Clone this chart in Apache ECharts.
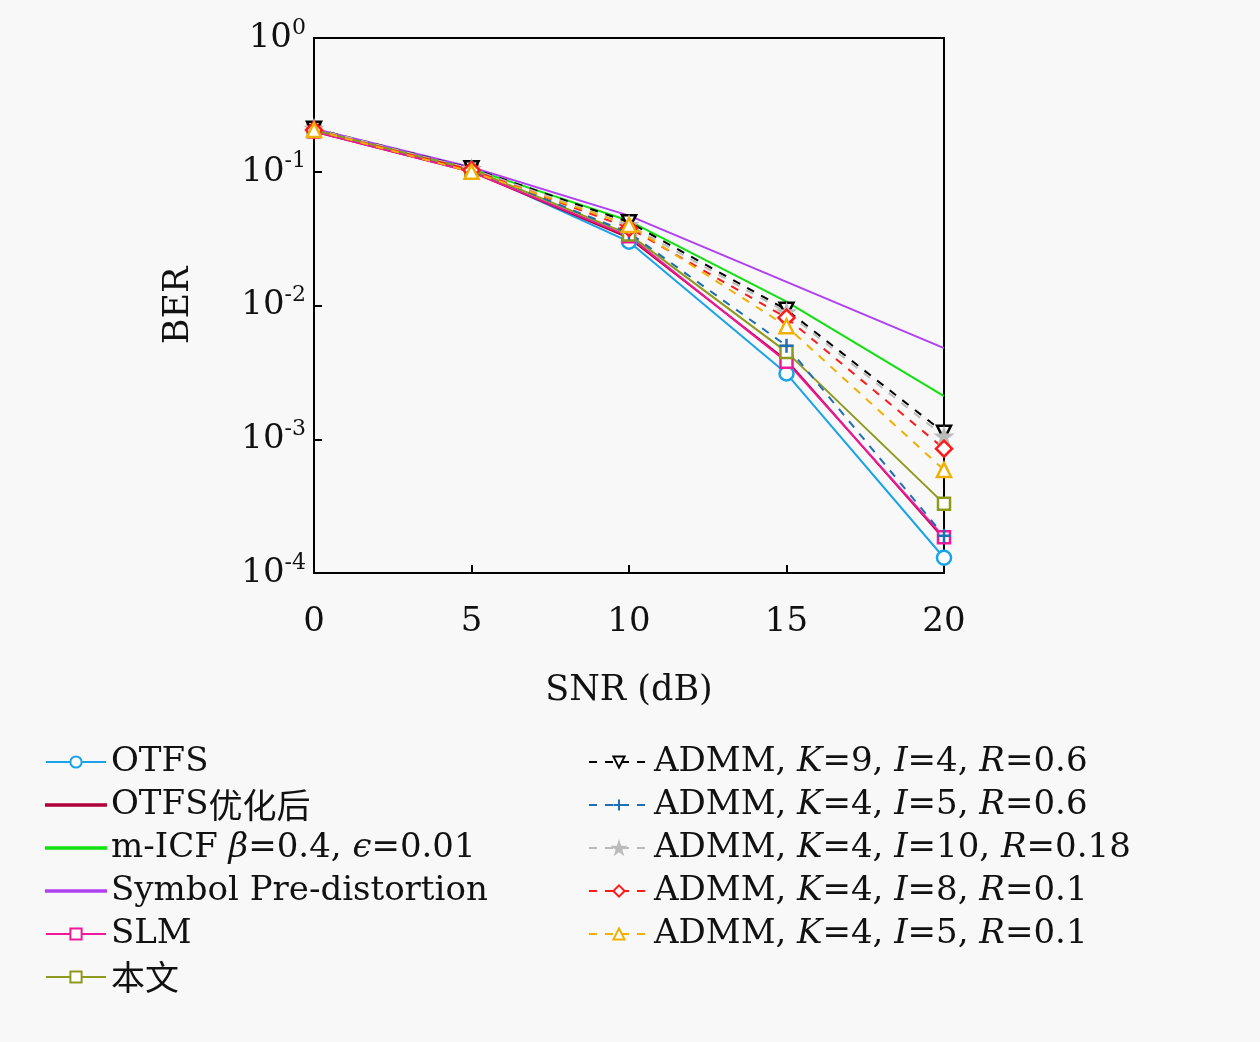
<!DOCTYPE html>
<html>
<head>
<meta charset="utf-8">
<script src="https://cdn.jsdelivr.net/npm/echarts@6/dist/echarts.min.js"></script>
<style>html,body{margin:0;padding:0;background:#f8f8f8;}#chart{width:1260px;height:1042px;}</style>
</head>
<body>
<div id="chart"></div>
<script>
// SNR points and BER curves
const snr = [0, 5, 10, 15, 20];
const berOTFS    = [0.205, 0.103, 0.030, 0.0031, 0.00013];
const berOTFSopt = [0.200, 0.100, 0.032, 0.0039, 0.00018];
const berMICF    = [0.205, 0.105, 0.043, 0.0107, 0.0021];
const berSymbol  = [0.210, 0.108, 0.047, 0.015, 0.0048];
const berSLM     = [0.200, 0.100, 0.033, 0.0038, 0.000185];
const berOurs    = [0.205, 0.104, 0.034, 0.0045, 0.00033];
const berK9      = [0.210, 0.106, 0.042, 0.0093, 0.00112];
const berK4I5    = [0.205, 0.104, 0.035, 0.0050, 0.00019];
const berK4I10   = [0.210, 0.105, 0.040, 0.0089, 0.00105];
const berK4I8    = [0.205, 0.103, 0.038, 0.0081, 0.00085];
const berK4I5b   = [0.205, 0.100, 0.040, 0.0070, 0.00059];

const serif = 'DejaVu Serif';
const triDown = 'path://M0,0L10,0L5,9Z';
const plus = 'path://M5,0L5,10M0,5L10,5';
const star = 'path://M5,0L6.2,3.6L10,3.6L6.9,5.9L8.1,9.5L5,7.3L1.9,9.5L3.1,5.9L0,3.6L3.8,3.6Z';
// plain line icon for series drawn without markers
const lineIcon = 'path://M0,0L0,0M0,6.2L60,6.2L60,7.8L0,7.8ZM60,14L60,14';

function mk(name, data, color, symbol, dashed, opt) {
  opt = opt || {};
  return {
    name: name, type: 'line', data: data.map((v, i) => [snr[i], v]),
    symbol: symbol, symbolSize: opt.size || 14,
    lineStyle: { color: color, width: 2, type: dashed ? [8, 8] : 'solid' },
    itemStyle: { color: opt.fill || '#fff', borderColor: color, borderWidth: 2.5 },
    showSymbol: symbol !== 'none', z: opt.z || 2
  };
}

const series = [
  mk('OTFS', berOTFS, '#1aa3e8', 'circle'),
  mk('OTFS优化后', berOTFSopt, '#b0003a', 'none'),
  mk('m-ICF', berMICF, '#10e010', 'none'),
  mk('Symbol Pre-distortion', berSymbol, '#b040f0', 'none'),
  mk('SLM', berSLM, '#f0189a', 'rect', false, { size: 12 }),
  mk('本文', berOurs, '#8e9a1c', 'rect', false, { size: 12 }),
  mk('K9', berK9, '#000000', triDown, true),
  mk('K4I5', berK4I5, '#1f6fb4', plus, true),
  mk('K4I10', berK4I10, '#bbbbbb', star, true, { fill: '#bbbbbb' }),
  mk('K4I8', berK4I8, '#ff1a1a', 'diamond', true, { size: 16 }),
  mk('K4I5b', berK4I5b, '#f0b000', 'triangle', true)
];

const legendText = {
  'OTFS': '{n|OTFS}',
  'OTFS优化后': '{n|OTFS}{c|优化后}',
  'm-ICF': '{n|m-ICF }{i|β}{n|=0.4, }{i|ϵ}{n|=0.01}',
  'Symbol Pre-distortion': '{n|Symbol Pre-distortion}',
  'SLM': '{n|SLM}',
  '本文': '{c|本文}',
  'K9': '{n|ADMM, }{i|K}{n|=9, }{i|I}{n|=4, }{i|R}{n|=0.6}',
  'K4I5': '{n|ADMM, }{i|K}{n|=4, }{i|I}{n|=5, }{i|R}{n|=0.6}',
  'K4I10': '{n|ADMM, }{i|K}{n|=4, }{i|I}{n|=10, }{i|R}{n|=0.18}',
  'K4I8': '{n|ADMM, }{i|K}{n|=4, }{i|I}{n|=8, }{i|R}{n|=0.1}',
  'K4I5b': '{n|ADMM, }{i|K}{n|=4, }{i|I}{n|=5, }{i|R}{n|=0.1}'
};
const legendStyle = {
  rich: {
    n: { fontFamily: serif, fontSize: 34, color: '#111' },
    i: { fontFamily: serif, fontStyle: 'italic', fontSize: 34, color: '#111' },
    c: { fontFamily: 'Noto Sans CJK SC', fontSize: 34, color: '#111' }
  }
};
const noMarker = ['OTFS优化后', 'm-ICF', 'Symbol Pre-distortion'];
function legend(left, names) {
  return {
    orient: 'vertical', left: left, top: 740, height: 320, itemGap: 9, itemWidth: 60, itemHeight: 14,
    data: names.map(n => noMarker.includes(n) ? { name: n, icon: lineIcon } : { name: n }),
    formatter: n => legendText[n], textStyle: legendStyle, selectedMode: false
  };
}

const chart = echarts.init(document.getElementById('chart'));
chart.setOption({
  backgroundColor: '#f8f8f8',
  animation: false,
  grid: { left: 314, right: 316, top: 38, bottom: 469, show: true, borderColor: '#000', borderWidth: 2, backgroundColor: 'transparent' },
  xAxis: {
    type: 'value', min: 0, max: 20, interval: 5,
    name: 'SNR (dB)', nameLocation: 'middle', nameGap: 100,
    nameTextStyle: { fontFamily: serif, fontSize: 35, color: '#111' },
    axisLine: { lineStyle: { color: '#000', width: 2 } },
    axisTick: { inside: true, length: 8, lineStyle: { color: '#000', width: 2 } },
    axisLabel: { fontFamily: serif, fontSize: 34, color: '#111', margin: 32 },
    splitLine: { show: false }
  },
  yAxis: {
    type: 'log', min: 1e-4, max: 1, logBase: 10,
    name: 'BER', nameLocation: 'middle', nameGap: 118,
    nameTextStyle: { fontFamily: serif, fontSize: 35, color: '#111' },
    axisLine: { lineStyle: { color: '#000', width: 2 } },
    axisTick: { inside: true, length: 8, lineStyle: { color: '#000', width: 2 } },
    axisLabel: {
      margin: 8,
      formatter: v => '{b|10}{s|' + Math.round(Math.log10(v)) + '}',
      rich: {
        b: { fontFamily: serif, fontSize: 34, color: '#111' },
        s: { fontFamily: serif, fontSize: 22, color: '#111', verticalAlign: 'top', padding: [0, 0, 20, 0] }
      }
    },
    splitLine: { show: false }
  },
  legend: [
    legend(40, ['OTFS', 'OTFS优化后', 'm-ICF', 'Symbol Pre-distortion', 'SLM', '本文']),
    legend(583, ['K9', 'K4I5', 'K4I10', 'K4I8', 'K4I5b'])
  ],
  series: series
});
</script>
</body>
</html>
